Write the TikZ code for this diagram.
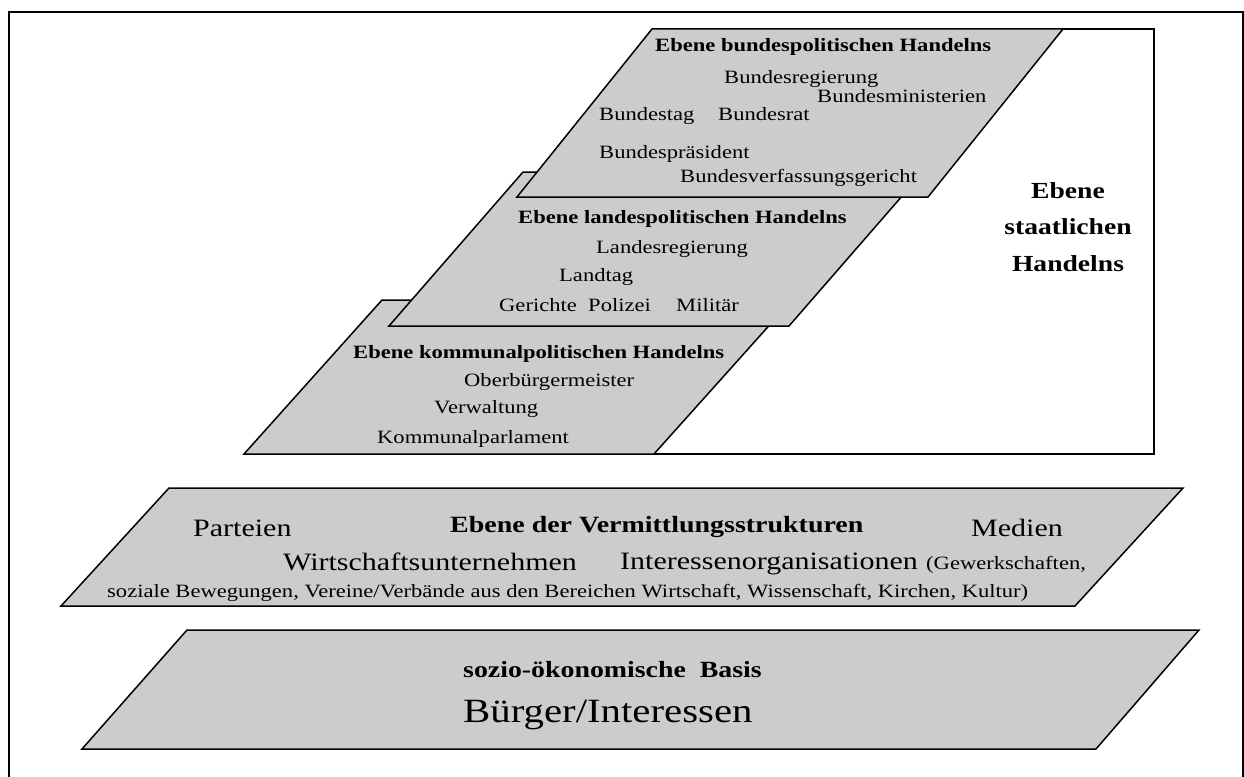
\documentclass[tikz,border=0pt]{standalone}
\usepackage{fontspec}
\setmainfont{Liberation Serif}[FakeStretch=1.2]
\definecolor{shade}{RGB}{204,204,204}
\tikzset{
  level/.style={fill=shade, draw=black, line width=1.5pt, line join=miter},
  outerframe/.style={draw=black, line width=2.7pt},
  stateframe/.style={draw=black, fill=white, line width=2.4pt},
  txt/.style={anchor=base west, inner sep=0pt, font=\fontsize{18.8}{22}\selectfont},
  ttl/.style={anchor=base west, inner sep=0pt, font=\fontsize{18.8}{22}\selectfont\bfseries},
  big/.style={anchor=base west, inner sep=0pt, font=\fontsize{25}{30}\selectfont},
}
\begin{document}
\begin{tikzpicture}[x=1pt,y=-1pt]
\useasboundingbox (0,0) rectangle (1244,776);
\clip (0,0) rectangle (1244,776);
% outer frame (bottom edge lies below the picture)
\draw[outerframe] (9,12) rectangle (1243,800);
% frame of the state level
\draw[stateframe] (655,29) rectangle (1154,454);
% kommunal level
\draw[level] (382,300) -- (792,300) -- (654,454) -- (244,454) -- cycle;
% landes level
\draw[level] (523,172) -- (923,172) -- (789,326) -- (389,326) -- cycle;
% bundes level
\draw[level] (652,29) -- (1063,29) -- (928,197) -- (517,197) -- cycle;
% intermediary level
\draw[level] (169,488) -- (1183,488) -- (1075,606) -- (61,606) -- cycle;
% socio-economic basis
\draw[level] (187,630) -- (1199,630) -- (1096,749) -- (82,749) -- cycle;

% state label
\node[inner sep=0pt, align=center, font=\fontsize{23}{36.5}\selectfont\bfseries] (staat) at (1068,227) {Ebene\\staatlichen\\Handelns};

% bundes
\node[ttl] (bt) at (655,52) {Ebene bundespolitischen Handelns};
\node[txt] (b1) at (724,83) {Bundesregierung};
\node[txt] (b2) at (817,102) {Bundesministerien};
\node[txt] (b3) at (599,120) {Bundestag};
\node[txt] (b4) at (718,120) {Bundesrat};
\node[txt] (b5) at (599,158) {Bundespräsident};
\node[txt] (b6) at (680,182) {Bundesverfassungsgericht};

% landes
\node[ttl] (lt) at (518,223) {Ebene landespolitischen Handelns};
\node[txt] (l1) at (596,253) {Landesregierung};
\node[txt] (l2) at (559,281) {Landtag};
\node[txt] (l3) at (499,311) {Gerichte};
\node[txt] (l4) at (588,311) {Polizei};
\node[txt] (l5) at (676,311) {Militär};

% kommunal
\node[ttl] (kt) at (353,358) {Ebene kommunalpolitischen Handelns};
\node[txt] (k1) at (464,386) {Oberbürgermeister};
\node[txt] (k2) at (434,413) {Verwaltung};
\node[txt] (k3) at (377,443) {Kommunalparlament};

% intermediary
\node[big] (v1) at (193,536) {Parteien};
\node[anchor=base west, inner sep=0pt, font=\fontsize{23.3}{28}\selectfont\bfseries] (vt) at (450,532) {Ebene der Vermittlungsstrukturen};
\node[big] (v2) at (971,536) {Medien};
\node[big] (v3) at (283,570) {Wirtschaftsunternehmen};
\node[big] (v4) at (620,569) {Interessenorganisationen};
\node[txt] (v5) at (926,569) {(Gewerkschaften,};
\node[txt] (v6) at (107,597) {soziale Bewegungen, Vereine/Verbände aus den Bereichen Wirtschaft, Wissenschaft, Kirchen, Kultur)};

% basis
\node[anchor=base west, inner sep=0pt, font=\fontsize{23.2}{28}\selectfont\bfseries] (st) at (463,677) {sozio-ökonomische\ \ Basis};
\node[anchor=base west, inner sep=0pt, font=\fontsize{34}{40}\selectfont] (s1) at (463,722) {Bürger/Interessen};
\end{tikzpicture}
\end{document}
